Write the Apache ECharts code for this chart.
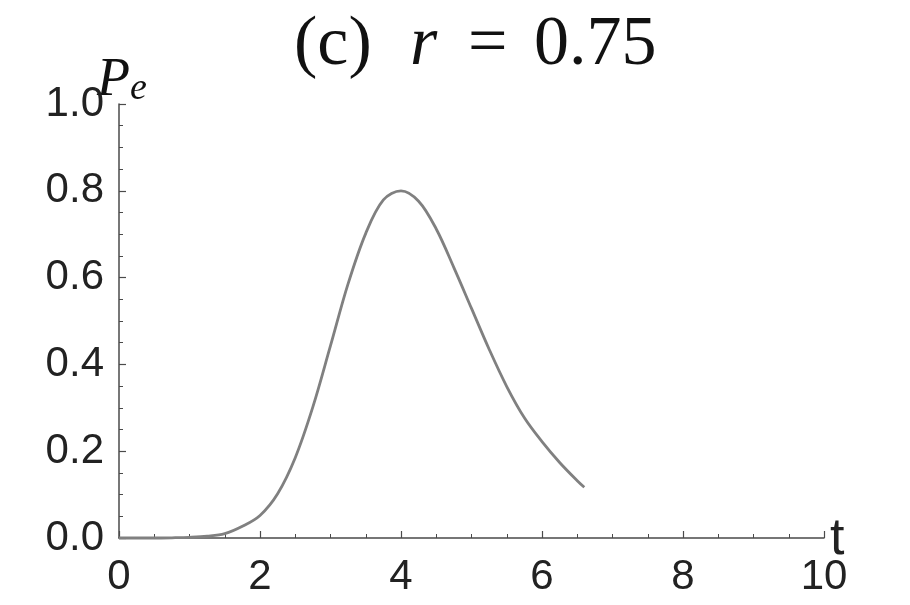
<!DOCTYPE html>
<html>
<head>
<meta charset="utf-8">
<script src="https://cdn.jsdelivr.net/npm/echarts@6/dist/echarts.min.js"></script>
<style>
  html, body { margin: 0; padding: 0; background: #fff; }
  #chart { width: 910px; height: 605px; }
</style>
</head>
<body>
<div id="chart"></div>
<script>
// t values and P_e (r = 0.75)
const tValues = [0, 0.5, 0.75, 1.0, 1.25, 1.5, 1.75, 2.0, 2.25, 2.5, 2.75, 3.0, 3.25, 3.5, 3.75, 4.0,
  4.25, 4.5, 4.75, 5.0, 5.25, 5.5, 5.75, 6.0, 6.25, 6.5, 6.6];
const peValues = [0, 0, 0.0005, 0.0015, 0.004, 0.01, 0.027, 0.052, 0.102, 0.185, 0.302, 0.443, 0.586, 0.702, 0.779, 0.80,
  0.776, 0.712, 0.623, 0.529, 0.435, 0.349, 0.277, 0.222, 0.174, 0.132, 0.117];
const xTicks = [0, 2, 4, 6, 8, 10];
const yTicks = [0, 0.2, 0.4, 0.6, 0.8, 1.0];

const chart = echarts.init(document.getElementById('chart'));

const axisColor = '#4a4a4a';
const labelFont = {color: '#222', fontSize: 42, fontFamily: 'Liberation Sans'};
const serif = {fontFamily: 'Liberation Serif', fontWeight: 'normal', fontSize: 70, color: '#111'};

chart.setOption({
    animation: false,
    backgroundColor: '#fff',
    title: {
        text: '{a|(c)}{b|r}{c|=}{d|0.75}',
        left: 289,
        top: 6,
        textStyle: {
            fontWeight: 'normal',
            rich: {
                a: Object.assign({width: 116}, serif),
                b: Object.assign({width: 58, fontStyle: 'italic'}, serif),
                c: Object.assign({width: 66}, serif),
                d: Object.assign({}, serif)
            }
        }
    },
    // axis names placed by hand
    graphic: [
        {
            type: 'text',
            left: 97,
            top: 54,
            style: {
                text: '{p|P}{e|e}',
                rich: {
                    p: {fontFamily: 'Liberation Serif', fontStyle: 'italic', fontSize: 54, fill: '#111'},
                    e: {fontFamily: 'Liberation Serif', fontStyle: 'italic', fontSize: 38, fill: '#111', padding: [16, 0, 0, 0]}
                }
            }
        },
        {
            type: 'text',
            left: 830,
            top: 514,
            style: {text: 't', fontFamily: 'Liberation Sans', fontSize: 52, fill: '#222'}
        }
    ],
    grid: {left: 119, right: 86, top: 104, bottom: 67},
    xAxis: {
        type: 'value',
        min: xTicks[0],
        max: xTicks[xTicks.length - 1],
        interval: 2,
        axisLine: {lineStyle: {color: axisColor, width: 1.5}},
        axisTick: {inside: true, length: 7, lineStyle: {color: axisColor, width: 1.2}},
        minorTick: {show: true, splitNumber: 4, length: 4, lineStyle: {color: axisColor, width: 1}},
        splitLine: {show: false},
        axisLabel: Object.assign({margin: 18, formatter: v => String(v)}, labelFont)
    },
    yAxis: {
        type: 'value',
        min: yTicks[0],
        max: yTicks[yTicks.length - 1],
        interval: 0.2,
        axisLine: {lineStyle: {color: axisColor, width: 1.5}},
        axisTick: {inside: true, length: 7, lineStyle: {color: axisColor, width: 1.2}},
        minorTick: {show: true, splitNumber: 4, length: 4, lineStyle: {color: axisColor, width: 1}},
        splitLine: {show: false},
        axisLabel: Object.assign({margin: 15, formatter: v => v.toFixed(1)}, labelFont)
    },
    series: [{
        type: 'line',
        data: tValues.map((t, i) => [t, peValues[i]]),
        smooth: 0.35,
        showSymbol: false,
        lineStyle: {color: '#808080', width: 2.8},
        clip: false
    }]
});
</script>
</body>
</html>
